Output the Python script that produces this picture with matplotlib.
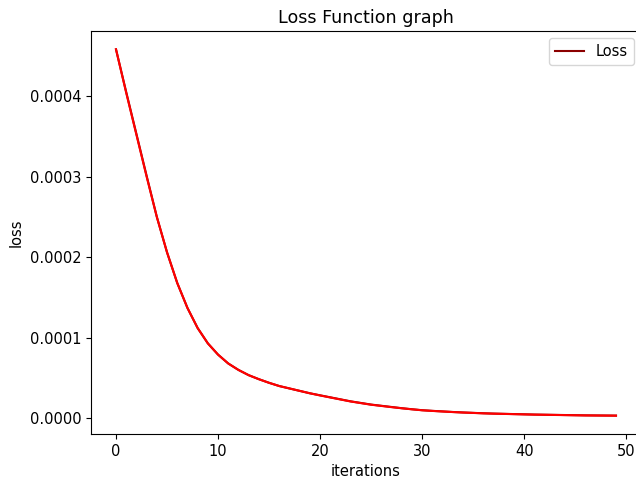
import matplotlib
matplotlib.use("Agg")
import matplotlib.pyplot as plt

# loss per iteration (units of 1e-4)
iterations = list(range(50))
loss = [4.58, 4.05, 3.53, 3.01, 2.50, 2.06, 1.68, 1.37, 1.12, 0.93,
        0.79, 0.68, 0.60, 0.535, 0.485, 0.44, 0.40, 0.37, 0.34, 0.31,
        0.285, 0.26, 0.235, 0.21, 0.19, 0.17, 0.155, 0.14, 0.125, 0.112,
        0.100, 0.092, 0.085, 0.078, 0.072, 0.067, 0.062, 0.058, 0.055, 0.052,
        0.049, 0.046, 0.044, 0.042, 0.040, 0.038, 0.036, 0.035, 0.034, 0.033]
fitted = [4.58, 4.04, 3.52, 3.00, 2.50, 2.06, 1.68, 1.37, 1.12, 0.93,
          0.79, 0.68, 0.60, 0.535, 0.485, 0.44, 0.40, 0.37, 0.34, 0.31,
          0.283, 0.258, 0.233, 0.208, 0.188, 0.168, 0.153, 0.138, 0.124, 0.111,
          0.099, 0.091, 0.084, 0.077, 0.071, 0.066, 0.061, 0.057, 0.054, 0.051,
          0.048, 0.045, 0.043, 0.041, 0.039, 0.037, 0.035, 0.034, 0.033, 0.032]

loss = [v * 1e-4 for v in loss]
fitted = [v * 1e-4 for v in fitted]

plt.rcParams["font.size"] = 10.5

fig = plt.figure(figsize=(6.36, 4.8), dpi=100)
ax = fig.add_axes([91 / 636, 46 / 480, 550 / 636, 403 / 480])

ax.plot(iterations, loss, color="darkred", linewidth=1.5, label="Loss")
ax.plot(iterations, fitted, color="red", linewidth=1.5)

ax.set_title("Loss Function graph")
ax.set_xlabel("iterations")
ax.set_ylabel("loss")
ax.legend(loc="upper right")

fig.savefig("out.png", dpi=100)
